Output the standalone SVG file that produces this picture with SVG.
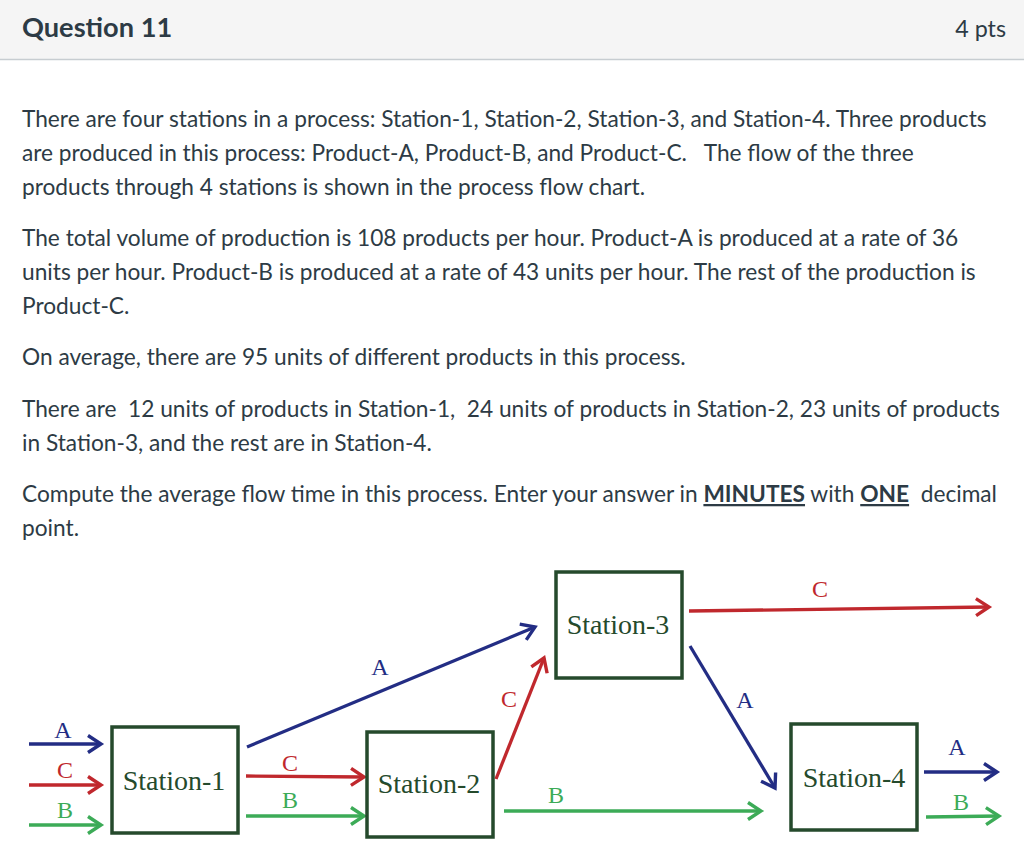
<svg xmlns="http://www.w3.org/2000/svg" width="1024" height="851" viewBox="0 0 1024 851">
<style>
.body{font-family:Lato,"Open Sans",sans-serif;font-size:22.7px;fill:#2d3b45}
.hdr{font-family:Lato,"Open Sans",sans-serif;fill:#2d3b45}
.box{fill:#fff;stroke:#254a2c;stroke-width:3.5}
.st{font-family:"Liberation Serif",serif;font-size:28px;fill:#254a2c;text-anchor:middle}
.lbl{font-family:"Liberation Serif",serif;font-size:24px;text-anchor:middle}
.b{stroke:#232d84;stroke-width:3.3;fill:none}
.r{stroke:#c0282d;stroke-width:3.3;fill:none}
.g{stroke:#3cab57;stroke-width:3.3;fill:none}
</style>
<defs>
<marker id="mb" markerUnits="userSpaceOnUse" markerWidth="22" markerHeight="22" viewBox="-16 -11 19 22" refX="0" refY="0" orient="auto"><path d="M-13,-8.5 L0,0 L-13,8.5" fill="none" stroke="#232d84" stroke-width="3.4"/></marker>
<marker id="mr" markerUnits="userSpaceOnUse" markerWidth="22" markerHeight="22" viewBox="-16 -11 19 22" refX="0" refY="0" orient="auto"><path d="M-13,-8.5 L0,0 L-13,8.5" fill="none" stroke="#c0282d" stroke-width="3.4"/></marker>
<marker id="mg" markerUnits="userSpaceOnUse" markerWidth="22" markerHeight="22" viewBox="-16 -11 19 22" refX="0" refY="0" orient="auto"><path d="M-13,-8.5 L0,0 L-13,8.5" fill="none" stroke="#3cab57" stroke-width="3.4"/></marker>
</defs>
<rect x="0" y="0" width="1024" height="851" fill="#fff"/>
<g id="header">
<rect x="0" y="0" width="1024" height="59" fill="#f5f5f5"/>
<line x1="0" y1="59.5" x2="1024" y2="59.5" stroke="#c7cdd1" stroke-width="1.5"/>
<text class="hdr" x="22" y="37" font-size="27.2" font-weight="bold">Question 11</text>
<text class="hdr" x="1006" y="37" font-size="23.3" text-anchor="end">4 pts</text>
</g>
<g id="question-text" class="body">
<text x="22" y="127">There are four stations in a process: Station-1, Station-2, Station-3, and Station-4. Three products</text>
<text x="22" y="161" xml:space="preserve">are produced in this process: Product-A, Product-B, and Product-C.   The flow of the three</text>
<text x="22" y="195">products through 4 stations is shown in the process flow chart.</text>
<text x="22" y="246">The total volume of production is 108 products per hour. Product-A is produced at a rate of 36</text>
<text x="22" y="280">units per hour. Product-B is produced at a rate of 43 units per hour. The rest of the production is</text>
<text x="22" y="314">Product-C.</text>
<text x="22" y="365">On average, there are 95 units of different products in this process.</text>
<text x="22" y="417" xml:space="preserve">There are  12 units of products in Station-1,  24 units of products in Station-2, 23 units of products</text>
<text x="22" y="451">in Station-3, and the rest are in Station-4.</text>
<text x="22" y="502" xml:space="preserve">Compute the average flow time in this process. Enter your answer in <tspan font-weight="bold" text-decoration="underline">MINUTES</tspan> with <tspan font-weight="bold" text-decoration="underline">ONE</tspan>  decimal</text>
<text x="22" y="536">point.</text>
</g>
<g id="connectors">
<line class="b" x1="29" y1="744" x2="101" y2="744" marker-end="url(#mb)"/>
<line class="r" x1="29" y1="785" x2="101" y2="785" marker-end="url(#mr)"/>
<line class="g" x1="29" y1="825" x2="101" y2="825" marker-end="url(#mg)"/>
<line class="b" x1="247" y1="747" x2="535" y2="627" marker-end="url(#mb)"/>
<line class="r" x1="246" y1="776" x2="364" y2="777" marker-end="url(#mr)"/>
<line class="g" x1="246" y1="816" x2="364" y2="816" marker-end="url(#mg)"/>
<line class="r" x1="496" y1="779" x2="544" y2="658" marker-end="url(#mr)"/>
<line class="g" x1="504" y1="811" x2="761" y2="811" marker-end="url(#mg)"/>
<line class="r" x1="689" y1="611" x2="989" y2="607" marker-end="url(#mr)"/>
<line class="b" x1="690" y1="646" x2="775" y2="788" marker-end="url(#mb)"/>
<line class="b" x1="924" y1="772" x2="997" y2="772" marker-end="url(#mb)"/>
<line class="g" x1="926" y1="817" x2="999" y2="816" marker-end="url(#mg)"/>
<text class="lbl" x="63" y="738" fill="#232d84">A</text>
<text class="lbl" x="65" y="778" fill="#c0282d">C</text>
<text class="lbl" x="65" y="818" fill="#3cab57">B</text>
<text class="lbl" x="380" y="675" fill="#232d84">A</text>
<text class="lbl" x="290" y="771" fill="#c0282d">C</text>
<text class="lbl" x="290" y="808" fill="#3cab57">B</text>
<text class="lbl" x="509" y="707" fill="#c0282d">C</text>
<text class="lbl" x="556" y="803" fill="#3cab57">B</text>
<text class="lbl" x="820" y="597" fill="#c0282d">C</text>
<text class="lbl" x="745" y="708" fill="#232d84">A</text>
<text class="lbl" x="957" y="755" fill="#232d84">A</text>
<text class="lbl" x="961" y="810" fill="#3cab57">B</text>
</g>
<g id="station-1">
<rect class="box" x="112" y="727" width="126" height="106"/>
<text class="st" x="174" y="790">Station-1</text>
</g>
<g id="station-2">
<rect class="box" x="367" y="732" width="126" height="105"/>
<text class="st" x="429" y="793">Station-2</text>
</g>
<g id="station-3">
<rect class="box" x="556" y="572" width="126" height="106"/>
<text class="st" x="618" y="634">Station-3</text>
</g>
<g id="station-4">
<rect class="box" x="791" y="724" width="126" height="106"/>
<text class="st" x="854" y="787">Station-4</text>
</g>
</svg>
